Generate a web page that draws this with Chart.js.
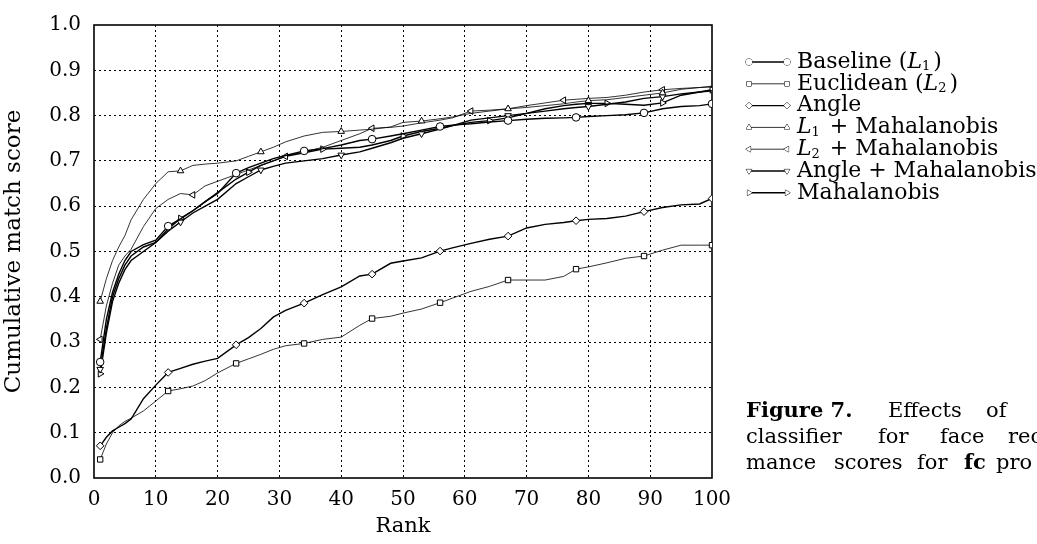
<!DOCTYPE html>
<html>
<head>
<meta charset="utf-8">
<script src="https://cdn.jsdelivr.net/npm/chart.js@4/dist/chart.umd.min.js"></script>
<style>
  body { margin: 0; background: #fff; overflow: hidden; }
  #wrap { position: relative; width: 1037px; height: 544px; }
  .cap { position: absolute; font-family: 'DejaVu Serif', serif; font-size: 21px; line-height: 24px; color: #000; white-space: nowrap; }
</style>
</head>
<body>
<div id="wrap">
  <canvas id="myChart" width="1037" height="544"></canvas>
  <div class="cap" style="left:746px; top:398px;"><b>Figure 7.</b></div>
  <div class="cap" style="left:888px; top:398px;">Effects</div>
  <div class="cap" style="left:986px; top:398px;">of</div>
  <div class="cap" style="left:746px; top:424px;">classifier</div>
  <div class="cap" style="left:878px; top:424px;">for</div>
  <div class="cap" style="left:940px; top:424px;">face</div>
  <div class="cap" style="left:1008px; top:424px;">rec</div>
  <div class="cap" style="left:746px; top:450px;">mance</div>
  <div class="cap" style="left:834px; top:450px;">scores</div>
  <div class="cap" style="left:917px; top:450px;">for</div>
  <div class="cap" style="left:964px; top:450px;"><b>fc</b></div>
  <div class="cap" style="left:996px; top:450px;">pro</div>
</div>
<script>
var ranks = [1, 2, 3, 4, 5, 6, 8, 10, 12, 14, 16, 18, 20, 23, 25, 27, 29, 31, 34, 37, 40, 43, 45, 48, 50,
  53, 56, 58, 61, 64, 67, 70, 73, 76, 78, 80, 83, 86, 89, 92, 95, 98, 100];

var baseline = [0.256, 0.35, 0.41, 0.45, 0.48, 0.50, 0.515, 0.525, 0.556, 0.572, 0.59, 0.61, 0.628, 0.673, 0.685,
  0.695, 0.705, 0.712, 0.722, 0.727, 0.735, 0.745, 0.748, 0.755, 0.76, 0.768, 0.776, 0.779, 0.782, 0.786, 0.789,
  0.792, 0.794, 0.795, 0.796, 0.798, 0.80, 0.802, 0.806, 0.815, 0.82, 0.822, 0.826];
var euclidean = [0.041, 0.075, 0.10, 0.115, 0.125, 0.132, 0.148, 0.17, 0.192, 0.197, 0.203, 0.215, 0.232, 0.253,
  0.263, 0.273, 0.284, 0.292, 0.297, 0.306, 0.311, 0.337, 0.352, 0.357, 0.364, 0.373, 0.387, 0.397, 0.412, 0.423,
  0.437, 0.437, 0.437, 0.445, 0.461, 0.466, 0.475, 0.485, 0.49, 0.503, 0.514, 0.514, 0.514];
var angle = [0.071, 0.09, 0.104, 0.112, 0.12, 0.13, 0.175, 0.205, 0.233, 0.242, 0.251, 0.258, 0.264, 0.294, 0.31,
  0.33, 0.355, 0.37, 0.386, 0.405, 0.422, 0.446, 0.45, 0.474, 0.479, 0.486, 0.501, 0.508, 0.518, 0.527, 0.534,
  0.552, 0.56, 0.564, 0.568, 0.571, 0.573, 0.578, 0.588, 0.597, 0.603, 0.605, 0.617];
var l1Mahal = [0.39, 0.44, 0.48, 0.51, 0.535, 0.57, 0.615, 0.65, 0.676, 0.678, 0.69, 0.693, 0.695, 0.70, 0.71,
  0.72, 0.73, 0.742, 0.755, 0.763, 0.765, 0.768, 0.77, 0.775, 0.785, 0.788, 0.793, 0.797, 0.805, 0.81, 0.815,
  0.818, 0.822, 0.826, 0.83, 0.833, 0.835, 0.84, 0.845, 0.85, 0.858, 0.862, 0.865];
var l2Mahal = [0.306, 0.38, 0.43, 0.47, 0.49, 0.505, 0.555, 0.595, 0.615, 0.628, 0.625, 0.645, 0.655, 0.67, 0.68,
  0.69, 0.70, 0.71, 0.72, 0.73, 0.745, 0.76, 0.772, 0.774, 0.777, 0.784, 0.79, 0.795, 0.81, 0.812, 0.815,
  0.822, 0.828, 0.834, 0.836, 0.838, 0.84, 0.845, 0.852, 0.857, 0.86, 0.862, 0.863];
var angleMahal = [0.24, 0.33, 0.40, 0.44, 0.47, 0.49, 0.51, 0.52, 0.545, 0.565, 0.585, 0.60, 0.615, 0.65, 0.665,
  0.68, 0.688, 0.695, 0.70, 0.705, 0.713, 0.72, 0.728, 0.74, 0.75, 0.76, 0.77, 0.778, 0.79, 0.795, 0.80,
  0.805, 0.81, 0.815, 0.818, 0.82, 0.825, 0.83, 0.838, 0.842, 0.848, 0.852, 0.855];
var mahal = [0.23, 0.32, 0.39, 0.43, 0.46, 0.48, 0.50, 0.52, 0.55, 0.573, 0.59, 0.61, 0.63, 0.66, 0.675,
  0.69, 0.70, 0.71, 0.718, 0.726, 0.728, 0.73, 0.735, 0.745, 0.755, 0.765, 0.772, 0.778, 0.785, 0.789, 0.795,
  0.805, 0.815, 0.822, 0.825, 0.827, 0.827, 0.825, 0.823, 0.828, 0.845, 0.852, 0.857];

// ranks where a marker is drawn
var marks11 = [1, 12, 23, 34, 45, 56, 67, 78, 89, 100];
var marks13 = [1, 14, 27, 40, 53, 67, 80, 92];
var marks15 = [1, 16, 31, 45, 61, 76, 92];
var marksMahal = [1, 14, 25, 37, 50, 64, 83, 92, 100];

var xTicks = [0, 10, 20, 30, 40, 50, 60, 70, 80, 90, 100];
var yTicks = [0, 0.1, 0.2, 0.3, 0.4, 0.5, 0.6, 0.7, 0.8, 0.9, 1.0];

var series = [
  { label: [['Baseline (', 'n'], ['L', 'i'], ['1', 's'], [')', 'n']], data: baseline, style: 'circle', rot: 0, marks: marks11, width: 1.4 },
  { label: [['Euclidean (', 'n'], ['L', 'i'], ['2', 's'], [')', 'n']], data: euclidean, style: 'rect', rot: 0, marks: marks11, width: 0.8 },
  { label: [['Angle', 'n']], data: angle, style: 'rectRot', rot: 0, marks: marks11, width: 1.4 },
  { label: [['L', 'i'], ['1', 's'], [' + Mahalanobis', 'n']], data: l1Mahal, style: 'triangle', rot: 0, marks: marks13, width: 0.8 },
  { label: [['L', 'i'], ['2', 's'], [' + Mahalanobis', 'n']], data: l2Mahal, style: 'triangle', rot: 270, marks: marks15, width: 0.8 },
  { label: [['Angle + Mahalanobis', 'n']], data: angleMahal, style: 'triangle', rot: 180, marks: marks13, width: 1.4 },
  { label: [['Mahalanobis', 'n']], data: mahal, style: 'triangle', rot: 90, marks: marksMahal, width: 1.4 }
];

var serif = "'DejaVu Serif', serif";
Chart.defaults.font.family = serif;
Chart.defaults.font.size = 20;
Chart.defaults.color = '#000';

var datasets = series.map(function (s) {
  return {
    label: s.label.map(function (p) { return p[0]; }).join(''),
    data: ranks.map(function (r, i) { return { x: r, y: s.data[i] }; }),
    borderColor: '#000',
    borderWidth: s.width,
    pointStyle: s.style,
    pointRotation: s.rot,
    pointRadius: function (c) { return s.marks.indexOf(ranks[c.dataIndex]) >= 0 ? 3.8 : 0; },
    pointBackgroundColor: '#fff',
    pointBorderColor: '#000',
    pointBorderWidth: 1,
    tension: 0,
    fill: false
  };
});

var frame = {
  id: 'frame',
  beforeDatasetsDraw: function (chart) {
    var a = chart.chartArea, ctx = chart.ctx;
    ctx.save();
    ctx.strokeStyle = '#000';
    ctx.lineWidth = 1.6;
    ctx.strokeRect(a.left, a.top, a.right - a.left, a.bottom - a.top);
    ctx.restore();
  }
};

var sideLegend = {
  id: 'sideLegend',
  afterDraw: function (chart) {
    var ctx = chart.ctx;
    var x0 = 749, x1 = 787, tx = 797, y = 62, step = 21.8;
    series.forEach(function (s, i) {
      var yy = y + i * step;
      ctx.save();
      ctx.strokeStyle = '#000';
      ctx.lineWidth = s.width;
      ctx.beginPath();
      ctx.moveTo(x0, yy);
      ctx.lineTo(x1, yy);
      ctx.stroke();
      ctx.lineWidth = 1;
      ctx.fillStyle = '#fff';
      [x0, x1].forEach(function (px) {
        Chart.helpers.drawPoint(ctx, { pointStyle: s.style, rotation: s.rot, radius: 3.2, borderWidth: 1 }, px, yy);
        ctx.fill();
      });
      ctx.fillStyle = '#000';
      ctx.textBaseline = 'middle';
      var cx = tx;
      s.label.forEach(function (p) {
        if (p[1] === 'i') ctx.font = 'italic 22px ' + serif;
        else if (p[1] === 's') ctx.font = '13px ' + serif;
        else ctx.font = '22px ' + serif;
        ctx.fillText(p[0], cx, p[1] === 's' ? yy + 5 : yy);
        cx += ctx.measureText(p[0]).width + (p[1] === 's' ? 3 : 0);
      });
      ctx.restore();
    });
  }
};

var ctx = document.getElementById('myChart').getContext('2d');
var myChart = new Chart(ctx, {
  type: 'line',
  data: { datasets: datasets },
  options: {
    responsive: false,
    animation: false,
    devicePixelRatio: 1,
    layout: { padding: { top: 25, right: 325, left: 0, bottom: 0 } },
    plugins: {
      legend: { display: false },
      tooltip: { enabled: false }
    },
    scales: {
      x: {
        type: 'linear',
        min: 0,
        max: 100,
        afterFit: function (scale) { scale.height = 66; },
        afterBuildTicks: function (scale) { scale.ticks = xTicks.map(function (v) { return { value: v }; }); },
        ticks: { padding: 10, maxRotation: 0 },
        grid: {
          drawTicks: false,
          color: function (c) { return (c.tick && (c.tick.value === 0 || c.tick.value === 100)) ? 'rgba(0,0,0,0)' : '#000'; },
          lineWidth: 1
        },
        border: { display: false, dash: [2, 3] },
        title: { display: true, text: 'Rank', font: { size: 21 }, padding: { top: 0, bottom: 5 } }
      },
      y: {
        min: 0,
        max: 1,
        afterFit: function (scale) { scale.width = 94; },
        afterBuildTicks: function (scale) { scale.ticks = yTicks.map(function (v) { return { value: v }; }); },
        ticks: { padding: 13, callback: function (v) { return v.toFixed(1); } },
        grid: {
          drawTicks: false,
          color: function (c) { return (c.tick && (c.tick.value === 0 || c.tick.value === 1)) ? 'rgba(0,0,0,0)' : '#000'; },
          lineWidth: 1
        },
        border: { display: false, dash: [2, 3] },
        title: { display: true, text: 'Cumulative match score', font: { size: 23 }, padding: { top: 0, bottom: 2 } }
      }
    }
  },
  plugins: [frame, sideLegend]
});
</script>
</body>
</html>
